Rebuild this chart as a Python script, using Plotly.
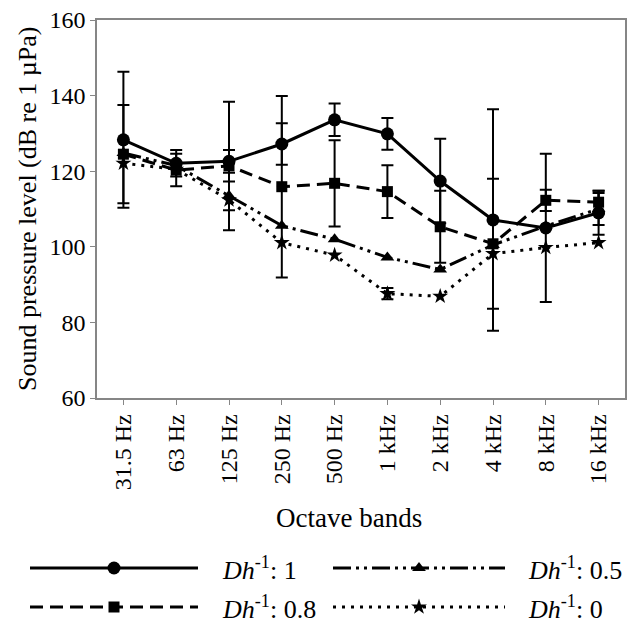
import plotly.graph_objects as go

# ---------------- data ----------------
bands = ["31.5 Hz", "63 Hz", "125 Hz", "250 Hz", "500 Hz",
         "1 kHz", "2 kHz", "4 kHz", "8 kHz", "16 kHz"]

spl_1 = [128.3, 122.1, 122.6, 127.2, 133.6, 129.9, 117.4, 107.1, 105.0, 109.0]
err_1 = [18.0, 3.5, 3.0, 5.5, 4.3, 4.2, 11.2, 29.3, 19.6, 5.8]

spl_08 = [124.5, 120.3, 121.4, 115.9, 116.8, 114.6, 105.3, 100.8, 112.3, 111.8]
err_08 = [13.0, 4.3, 17.0, 24.0, 11.4, 7.0, 9.5, 17.2, 2.8, 3.0]

spl_05 = [124.8, 121.5, 113.5, 105.6, 102.0, 97.2, 94.0, 100.5, 105.5, 110.0]
err_05 = [None, None, 3.8, None, None, None, None, None, None, 4.2]

spl_0 = [122.1, 120.5, 112.4, 101.1, 97.8, 87.6, 86.9, 98.2, 99.8, 101.1]
err_0 = [None, None, None, None, None, 1.5, None, None, None, None]

names = ["<i>Dh</i><sup>-1</sup>: 1", "<i>Dh</i><sup>-1</sup>: 0.8",
         "<i>Dh</i><sup>-1</sup>: 0.5", "<i>Dh</i><sup>-1</sup>: 0"]

# ---------------- styles ----------------
FONT = "Liberation Serif, Times New Roman, serif"
GREY = "#868686"
styles = [
    dict(dash="solid", symbol="circle", size=13),
    dict(dash="13px,7px", symbol="square", size=11),
    dict(dash="18px,5px,3px,5px,3px,5px", symbol="triangle-up", size=12),
    dict(dash="3px,6px", symbol="star", size=12),
]
series = [(spl_1, err_1), (spl_08, err_08), (spl_05, err_05), (spl_0, err_0)]

W, H = 633, 632
PL, PR, PT, PB = 97, 625, 20, 398  # plot area in pixels

fig = go.Figure()

# error bars (only where present)
for (vals, errs) in series:
    idx = [i for i, e in enumerate(errs) if e is not None]
    fig.add_trace(go.Scatter(
        x=[bands[i] for i in idx], y=[vals[i] for i in idx],
        mode="markers", marker=dict(size=1, opacity=0),
        error_y=dict(type="data", array=[errs[i] for i in idx],
                     color="black", thickness=2, width=6),
        showlegend=False, hoverinfo="skip"))

# lines + markers
for (vals, _), st, nm in zip(series, styles, names):
    fig.add_trace(go.Scatter(
        x=bands, y=vals, mode="lines+markers", name=nm,
        line=dict(color="black", width=3, dash=st["dash"]),
        marker=dict(symbol=st["symbol"], size=st["size"], color="black"),
        showlegend=False))

# ---------------- custom legend (own subplot) ----------------
leg_rows = [568, 607]
leg_cols = [(30, 198, 220), (333, 505, 526)]
order = [(0, 0), (1, 0), (0, 1), (1, 1)]  # (row, col) for each series
for k, (r, c) in enumerate(order):
    x0, x1, xt = leg_cols[c]
    y = leg_rows[r]
    st = styles[k]
    fig.add_trace(go.Scatter(
        x=[x0, x1], y=[y, y], mode="lines", xaxis="x2", yaxis="y2",
        line=dict(color="black", width=3, dash=st["dash"]),
        showlegend=False, hoverinfo="skip"))
    fig.add_trace(go.Scatter(
        x=[(x0 + x1) / 2], y=[y], mode="markers", xaxis="x2", yaxis="y2",
        marker=dict(symbol=st["symbol"], size=st["size"], color="black"),
        showlegend=False, hoverinfo="skip"))
    fig.add_annotation(x=xt / W, y=1 - y / H, xref="paper", yref="paper",
                       text=names[k], showarrow=False, xanchor="left",
                       yanchor="middle", font=dict(family=FONT, size=26, color="black"))

# axis titles
fig.add_annotation(x=27 / W, y=1 - ((PT + PB) / 2) / H, xref="paper", yref="paper",
                   xanchor="center", yanchor="middle",
                   text="Sound pressure level (dB re 1 µPa)", textangle=-90,
                   showarrow=False, font=dict(family=FONT, size=26, color="black"))
fig.add_annotation(x=((PL + PR) / 2 - 12) / W, y=1 - 518 / H, xref="paper", yref="paper",
                   xanchor="center", yanchor="middle",
                   text="Octave bands", showarrow=False,
                   font=dict(family=FONT, size=27, color="black"))

fig.update_layout(
    width=W, height=H,
    margin=dict(l=0, r=0, t=0, b=0, autoexpand=False),
    paper_bgcolor="white", plot_bgcolor="rgba(0,0,0,0)",
    showlegend=False,
    xaxis=dict(domain=[PL / W, PR / W], type="category", range=[-0.5, 9.5],
               showline=True, linecolor=GREY, linewidth=1.5, mirror=True,
               ticks="outside", ticklen=5, tickcolor=GREY, tickangle=-90,
               showgrid=False, zeroline=False,
               tickfont=dict(family=FONT, size=24, color="black")),
    yaxis=dict(domain=[1 - PB / H, 1 - PT / H], range=[60, 160], dtick=20,
               showline=True, linecolor=GREY, linewidth=1.5, mirror=True,
               ticks="outside", ticklen=5, tickcolor=GREY,
               showgrid=False, zeroline=False,
               tickfont=dict(family=FONT, size=24, color="black")),
    xaxis2=dict(domain=[0, 1], range=[0, W], visible=False, anchor="y2"),
    yaxis2=dict(domain=[0, 0.16], range=[H, H - 0.16 * H], visible=False, anchor="x2"),
)

fig.write_html("out.html",
               post_script="document.body.style.margin='0';document.body.style.overflow='hidden';")
